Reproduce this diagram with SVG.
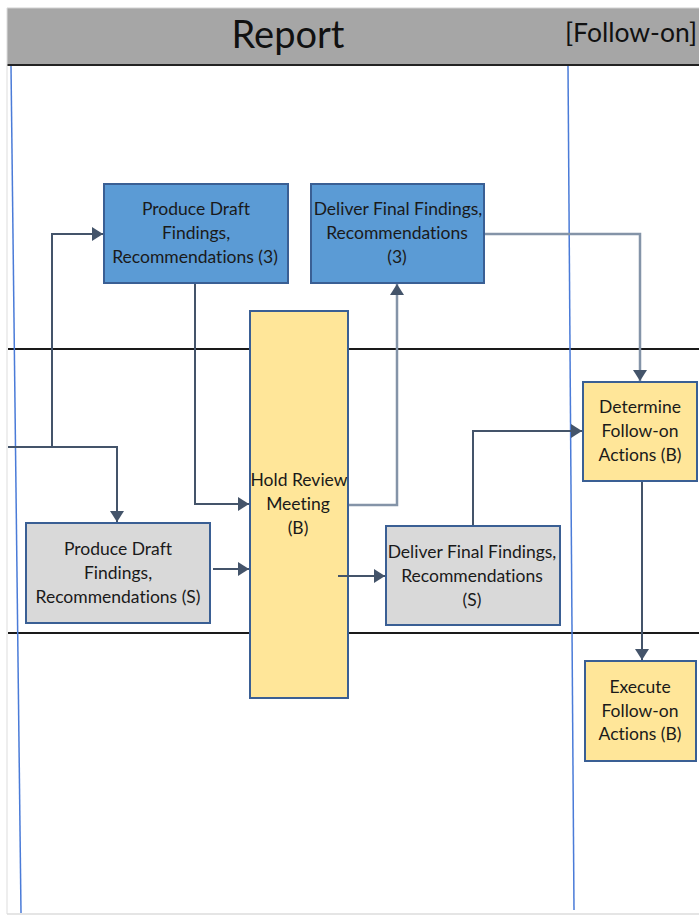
<svg xmlns="http://www.w3.org/2000/svg" width="699" height="916" viewBox="0 0 699 916">
<defs>
<style>
.t{font-family:Lato,"Open Sans","Liberation Sans",sans-serif;font-size:17.5px;fill:#1a1a1a;text-anchor:middle;font-variant-ligatures:none}
.blue{fill:#5b9bd5;stroke:#3a5f94;stroke-width:2}
.yel{fill:#ffe699;stroke:#3a5f94;stroke-width:2}
.gry{fill:#d9d9d9;stroke:#3a5f94;stroke-width:2}
.c{fill:none;stroke:#44546a;stroke-width:2}
.cl{fill:none;stroke:#8494a8;stroke-width:2.5}
.lane{stroke:#1a1a1a;stroke-width:2}
.vl{stroke:#4a7bd8;stroke-width:1.5}
</style>
<marker id="a" viewBox="0 0 11 14" refX="11" refY="7" markerWidth="11" markerHeight="14" markerUnits="userSpaceOnUse" orient="auto">
<path d="M0,0 L11,7 L0,14 Z" fill="#44546a"/>
</marker>
</defs>
<rect x="0" y="0" width="699" height="916" fill="#ffffff"/>
<g id="header">
<rect x="7" y="8" width="692" height="57" fill="#a6a6a6"/>
<line x1="7" y1="8" x2="699" y2="8" stroke="#d0d0d0" stroke-width="1"/>
<text x="288" y="48" style="font-family:Lato,'Open Sans','Liberation Sans',sans-serif;font-size:38px;fill:#111" text-anchor="middle">Report</text>
<text x="565" y="42" style="font-family:Lato,'Open Sans','Liberation Sans',sans-serif;font-size:26.5px;fill:#111">[Follow-on]</text>
<line x1="7" y1="65" x2="699" y2="65" stroke="#222" stroke-width="2"/>
</g>
<g id="lanes">
<line class="lane" x1="8" y1="349" x2="699" y2="349"/>
<line class="lane" x1="8" y1="633" x2="699" y2="633"/>
<line class="vl" x1="11" y1="66" x2="21" y2="913"/>
<line class="vl" x1="568" y1="66" x2="574" y2="910"/>
<line x1="7" y1="914" x2="699" y2="914" stroke="#dddddd" stroke-width="1.5"/>
<line x1="7" y1="8" x2="7" y2="914" stroke="#dddddd" stroke-width="1"/>
</g>
<g id="n1">
<rect class="blue" x="104" y="184" width="184" height="99"/>
<text class="t" x="196" y="215">Produce Draft</text>
<text class="t" x="196" y="239">Findings,</text>
<text class="t" x="195" y="263">Recommendations (3)</text>
</g>
<g id="n2">
<rect class="blue" x="311" y="184" width="173" height="99"/>
<text class="t" x="398" y="215">Deliver Final Findings,</text>
<text class="t" x="397" y="239">Recommendations</text>
<text class="t" x="397" y="263">(3)</text>
</g>
<g id="n3">
<rect class="yel" x="250" y="311" width="98" height="387"/>
<text class="t" x="299" y="486">Hold Review</text>
<text class="t" x="298" y="510">Meeting</text>
<text class="t" x="298" y="534">(B)</text>
</g>
<g id="n4">
<rect class="gry" x="26" y="523" width="184" height="100"/>
<text class="t" x="118" y="555">Produce Draft</text>
<text class="t" x="118" y="579">Findings,</text>
<text class="t" x="118" y="603">Recommendations (S)</text>
</g>
<g id="n5">
<rect class="gry" x="386" y="526" width="174" height="99"/>
<text class="t" x="472" y="558">Deliver Final Findings,</text>
<text class="t" x="472" y="582">Recommendations</text>
<text class="t" x="472" y="606">(S)</text>
</g>
<g id="n6">
<rect class="yel" x="583" y="382" width="114" height="99"/>
<text class="t" x="640" y="413">Determine</text>
<text class="t" x="640" y="437">Follow-on</text>
<text class="t" x="640" y="461">Actions (B)</text>
</g>
<g id="n7">
<rect class="yel" x="585" y="661" width="111" height="100"/>
<text class="t" x="640" y="693">Execute</text>
<text class="t" x="640" y="717">Follow-on</text>
<text class="t" x="640" y="740">Actions (B)</text>
</g>
<g id="connectors">
<path class="c" d="M8,447 H117 V522" marker-end="url(#a)"/>
<path class="c" d="M52,447 V234 H103" marker-end="url(#a)"/>
<path class="c" d="M195,284 V504 H249" marker-end="url(#a)"/>
<path class="c" d="M213,569 H249" marker-end="url(#a)"/>
<path class="cl" d="M349,505 H397 V284" marker-end="url(#a)"/>
<path class="c" d="M338,576 H385" marker-end="url(#a)"/>
<path class="c" d="M473,525 V431 H582" marker-end="url(#a)"/>
<path class="cl" d="M485,234 H640 V381" marker-end="url(#a)"/>
<path class="c" d="M642,482 V660" marker-end="url(#a)"/>
</g>
</svg>
